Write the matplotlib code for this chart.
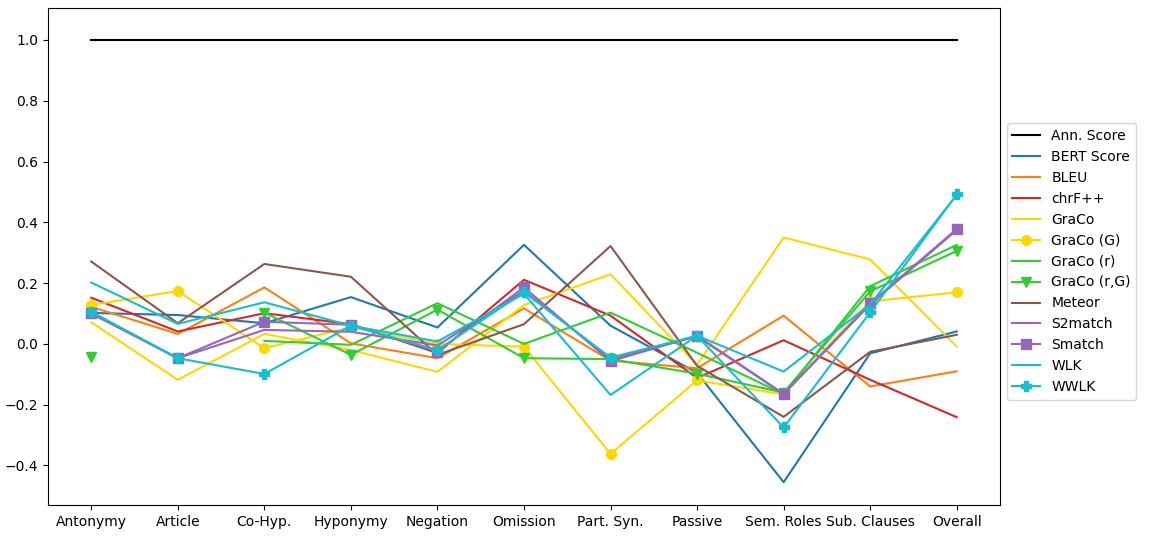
import numpy as np
import matplotlib
matplotlib.use("Agg")
import matplotlib.pyplot as plt

nan = np.nan
categories = ["Antonymy", "Article", "Co-Hyp.", "Hyponymy", "Negation", "Omission",
              "Part. Syn.", "Passive", "Sem. Roles", "Sub. Clauses", "Overall"]

ann_score = [1.0] * 11
bert_score = [0.102, 0.095, 0.068, 0.154, 0.054, 0.326, 0.060, -0.095, -0.455, -0.031, 0.041]
bleu = [0.122, 0.033, 0.186, 0.002, -0.047, 0.117, -0.055, -0.080, 0.093, -0.140, -0.090]
chrf = [0.152, 0.041, 0.101, 0.065, -0.030, 0.211, 0.093, -0.112, 0.012, -0.118, -0.241]
graco = [0.071, -0.118, 0.033, -0.020, -0.092, 0.128, 0.229, -0.069, 0.350, 0.278, -0.009]
graco_g = [0.128, 0.174, -0.014, 0.055, 0.000, -0.009, -0.362, -0.120, -0.166, 0.140, 0.170]
graco_r = [nan, nan, 0.010, -0.003, 0.134, 0.000, 0.103, -0.029, -0.165, 0.190, 0.326]
graco_rg = [-0.044, nan, 0.103, -0.036, 0.113, -0.047, -0.050, -0.098, -0.160, 0.173, 0.306]
meteor = [0.271, 0.068, 0.263, 0.221, -0.036, 0.065, 0.322, -0.072, -0.240, -0.026, 0.030]
s2match = [0.100, -0.047, 0.046, 0.040, -0.005, 0.175, -0.050, 0.025, -0.165, 0.130, 0.375]
smatch = [0.101, -0.047, 0.073, 0.063, -0.025, 0.186, -0.057, 0.027, -0.164, 0.133, 0.378]
wlk = [0.202, 0.066, 0.137, 0.060, 0.008, 0.165, -0.168, 0.027, -0.091, 0.130, 0.490]
wwlk = [0.106, -0.047, -0.099, 0.060, -0.020, 0.170, -0.045, 0.027, -0.275, 0.104, 0.492]

series = [
    ("Ann. Score", ann_score, "black", None),
    ("BERT Score", bert_score, "tab:blue", None),
    ("BLEU", bleu, "tab:orange", None),
    ("chrF++", chrf, "tab:red", None),
    ("GraCo", graco, "gold", None),
    ("GraCo (G)", graco_g, "gold", "o"),
    ("GraCo (r)", graco_r, "limegreen", None),
    ("GraCo (r,G)", graco_rg, "limegreen", "v"),
    ("Meteor", meteor, "tab:brown", None),
    ("S2match", s2match, "tab:purple", None),
    ("Smatch", smatch, "tab:purple", "s"),
    ("WLK", wlk, "tab:cyan", None),
    ("WWLK", wwlk, "tab:cyan", "P"),
]

fig = plt.figure(figsize=(11.59, 5.39), dpi=100)
ax = fig.add_axes([0.0414, 0.0631, 0.8214, 0.9219])
x = np.arange(len(categories))
for name, vals, color, marker in series:
    ax.plot(x, vals, color=color, marker=marker, markersize=7, label=name)

ax.set_xticks(x)
ax.set_xticklabels(categories)
ax.set_xlim(-0.5, 10.5)
ax.set_ylim(-0.53, 1.105)
ax.set_yticks([-0.4, -0.2, 0.0, 0.2, 0.4, 0.6, 0.8, 1.0])
ax.legend(loc="center left", bbox_to_anchor=(1.0, 0.49))
fig.savefig("out.png", dpi=100)
